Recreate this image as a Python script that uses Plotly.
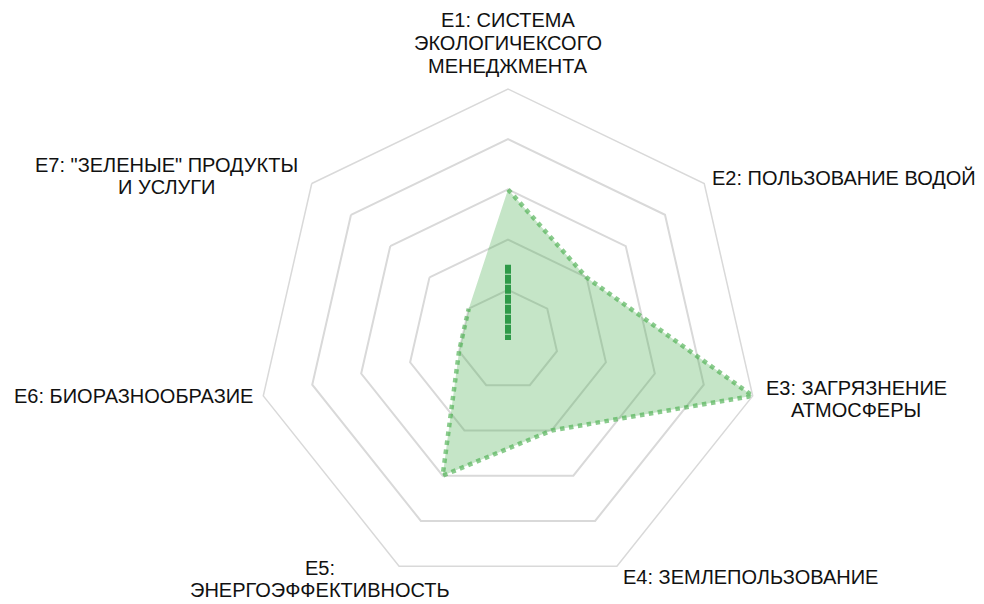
import plotly.graph_objects as go

# Environmental (E) criteria scores, scale 0-5
categories = ["E1", "E2", "E3", "E4", "E5", "E6", "E7"]
labels = [
    ["E1: СИСТЕМА", "ЭКОЛОГИЧЕКСОГО", "МЕНЕДЖМЕНТА"],
    ["E2: ПОЛЬЗОВАНИЕ ВОДОЙ"],
    ["E3: ЗАГРЯЗНЕНИЕ", "АТМОСФЕРЫ"],
    ["E4: ЗЕМЛЕПОЛЬЗОВАНИЕ"],
    ["E5:", "ЭНЕРГОЭФФЕКТИВНОСТЬ"],
    ["E6: БИОРАЗНООБРАЗИЕ"],
    ["E7: \"ЗЕЛЕНЫЕ\" ПРОДУКТЫ", "И УСЛУГИ"],
]
scores = [3, 2, 5, 2, 3, 1, 1]
marker_scores = [1.5, 0, 0, 0, 0, 0, 0]
radial_ticks = [1, 2, 3, 4, 5]

# label block centres in pixels (x, y from top-left)
label_pos = [(508, 43), (844, 177), (856, 399), (750, 577),
             (320, 579), (133, 396), (166, 176)]

W, H = 984, 604
M = dict(t=81, b=21, l=92, r=76)
GRID = "#d9d9d9"
LINE_GAP = 22.5
X_NUDGE = -8   # page body margin offset
Y_NUDGE = -8


def _paper(px, py):
    """Pixel position -> paper coordinates of the plot area."""
    pw = W - M["l"] - M["r"]
    ph = H - M["t"] - M["b"]
    return (px - M["l"]) / pw, 1 - (py - M["t"]) / ph


fig = go.Figure()

fig.add_trace(
    go.Scatterpolar(
        r=scores,
        theta=categories,
        fill="toself",
        fillcolor="rgba(76,175,80,0.32)",
        mode="lines",
        line=dict(color="rgba(76,175,80,0.65)", width=4.5, dash="dot"),
        showlegend=False,
    )
)

# short marker along the E1 axis
fig.add_trace(
    go.Scatterpolar(
        r=marker_scores,
        theta=categories,
        mode="lines",
        line=dict(color="#2e9a48", width=6, dash="9px,1px"),
        showlegend=False,
    )
)

# axis labels, centred, one annotation per line
for lines, (px, py) in zip(labels, label_pos):
    n = len(lines)
    for i, text in enumerate(lines):
        ly = py + (i - (n - 1) / 2) * LINE_GAP + Y_NUDGE
        x, y = _paper(px + X_NUDGE, ly)
        fig.add_annotation(
            x=x, y=y, xref="paper", yref="paper",
            text=text, showarrow=False,
            xanchor="center", yanchor="middle", align="center",
            font=dict(size=20, color="#111111"),
        )

fig.update_layout(
    width=W,
    height=H,
    paper_bgcolor="white",
    plot_bgcolor="white",
    font=dict(family="Arial, Liberation Sans, sans-serif", size=20, color="#111111"),
    margin=M,
    polar=dict(
        bgcolor="white",
        gridshape="linear",
        radialaxis=dict(
            range=[0, 5],
            tickvals=radial_ticks,
            showticklabels=False,
            ticks="",
            showline=False,
            gridcolor=GRID,
            gridwidth=1.5,
        ),
        angularaxis=dict(
            direction="clockwise",
            rotation=90,
            showgrid=False,
            showline=True,
            linecolor=GRID,
            linewidth=1.5,
            ticks="",
            showticklabels=False,
        ),
    ),
)

fig.write_html("out.html")
